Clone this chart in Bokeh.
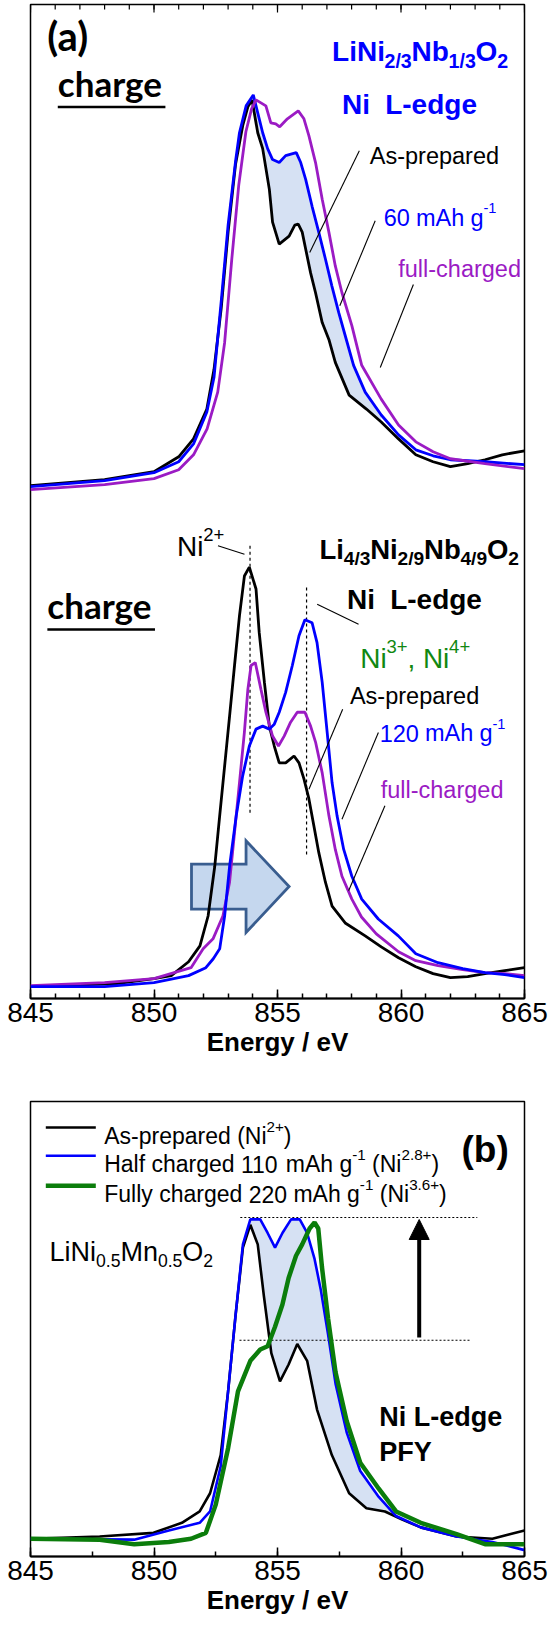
import numpy as np
from bokeh.plotting import figure
from bokeh.models import Label, SingleIntervalTicker, Arrow, NormalHead
from bokeh.layouts import column
from bokeh.embed import file_html
from bokeh.resources import INLINE

# ---------------- data (energy in eV, intensity in arbitrary offset units) ----------------
# panel (a), LiNi2/3Nb1/3O2 (upper set)
ea_up_black = [845, 848, 850, 851, 851.6, 852.14, 852.43, 852.72, 853.0, 853.3, 853.6, 853.8, 853.97, 854.2,
               854.4, 854.67, 854.8, 855.07, 855.47, 855.7, 855.84, 856.0, 856.14, 856.34, 856.54, 856.81,
               857.08, 857.34, 857.9, 858.6, 859.2, 859.9, 860.6, 861.3, 862.0, 862.7, 863.4, 864.1, 865]
ia_up_black = [5.16, 5.22, 5.30, 5.45, 5.63, 5.93, 6.33, 6.94, 7.71, 8.39, 8.79, 8.97, 9.04, 8.71,
               8.55, 8.14, 7.81, 7.59, 7.67, 7.78, 7.79, 7.71, 7.54, 7.30, 7.10, 6.80,
               6.63, 6.40, 6.07, 5.93, 5.80, 5.63, 5.47, 5.40, 5.35, 5.38, 5.42, 5.47, 5.51]
ea_up_blue = [845, 848, 850, 851, 851.6, 852.14, 852.43, 852.72, 853.0, 853.3, 853.46, 853.73, 854.02, 854.2,
              854.4, 854.6, 854.8, 855.07, 855.33, 855.76, 855.94, 856.14, 856.4, 856.67, 856.94, 857.2,
              857.48, 857.74, 858.08, 858.55, 859.2, 859.9, 860.6, 861.3, 862.0, 863.4, 865]
ia_up_blue = [5.15, 5.21, 5.29, 5.40, 5.58, 5.90, 6.25, 7.01, 7.78, 8.42, 8.71, 8.98, 9.09, 8.91,
              8.71, 8.55, 8.44, 8.41, 8.48, 8.51, 8.41, 8.24, 7.97, 7.71, 7.44, 7.17,
              6.90, 6.67, 6.37, 6.10, 5.87, 5.67, 5.52, 5.46, 5.42, 5.40, 5.37]
ea_up_purple = [845, 848, 850, 851, 851.6, 852.15, 852.58, 852.86, 853.15, 853.43, 853.72, 853.95, 854.13,
                854.53, 854.73, 854.93, 855.09, 855.4, 855.84, 856.07, 856.27, 856.54, 856.81, 857.08,
                857.34, 857.61, 858.01, 858.41, 859.2, 859.9, 860.6, 861.3, 862.0, 863.4, 865]
ia_up_purple = [5.12, 5.17, 5.23, 5.32, 5.47, 5.73, 6.10, 6.60, 7.44, 8.18, 8.72, 8.95, 9.04,
                8.98, 8.81, 8.80, 8.77, 8.85, 8.93, 8.85, 8.68, 8.41, 8.04, 7.71,
                7.37, 7.10, 6.77, 6.37, 6.03, 5.77, 5.60, 5.50, 5.43, 5.38, 5.33]

# panel (a), Li4/3Ni2/9Nb4/9O2 (lower set)
ea_lo_black = [845, 848.5, 850.0, 850.7, 851.4, 851.86, 852.19, 852.46, 852.66, 852.86, 853.06, 853.26,
               853.46, 853.66, 853.86, 854.13, 854.26, 854.47, 854.67, 854.87, 855.07, 855.33, 855.67,
               855.87, 856.07, 856.27, 856.47, 856.67, 856.94, 857.21, 857.74, 858.55, 859.2, 859.9,
               860.6, 861.3, 862.0, 862.7, 863.4, 864.2, 865]
ia_lo_black = [0.12, 0.15, 0.20, 0.23, 0.37, 0.53, 0.83, 1.33, 1.84, 2.34, 2.84, 3.35,
               3.85, 4.25, 4.34, 4.12, 3.68, 3.18, 2.74, 2.54, 2.37, 2.37, 2.44,
               2.37, 2.21, 2.01, 1.74, 1.47, 1.17, 0.93, 0.76, 0.63, 0.52, 0.41,
               0.32, 0.25, 0.21, 0.22, 0.25, 0.28, 0.31]
ea_lo_blue = [845, 848, 850, 851.4, 852.1, 852.4, 852.66, 852.86, 853.06, 853.33, 853.59, 853.86, 854.13,
              854.4, 854.67, 854.87, 855.07, 855.33, 855.6, 855.87, 856.11, 856.4, 856.6, 856.81, 857.01,
              857.21, 857.41, 857.68, 858.01, 858.41, 859.08, 859.89, 860.6, 861.5, 862.5, 863.4, 864.2, 865]
ia_lo_blue = [0.12, 0.12, 0.16, 0.23, 0.31, 0.40, 0.50, 0.83, 1.33, 1.84, 2.24, 2.54, 2.71,
              2.74, 2.71, 2.76, 2.88, 3.08, 3.35, 3.65, 3.81, 3.78, 3.58, 3.18, 2.68,
              2.17, 1.84, 1.50, 1.23, 1.00, 0.80, 0.63, 0.45, 0.36, 0.30, 0.26, 0.24, 0.21]
ea_lo_purple = [845, 848, 850, 851.5, 851.99, 852.39, 852.79, 853.06, 853.26, 853.46, 853.66, 853.8, 853.93,
                854.1, 854.33, 854.53, 854.8, 855.04, 855.27, 855.53, 855.8, 856.11, 856.34, 856.54,
                856.81, 857.08, 857.34, 857.61, 858.01, 858.4, 859.0, 859.9, 860.6, 861.5, 862.5, 863.4,
                864.2, 865]
ia_lo_purple = [0.13, 0.16, 0.20, 0.31, 0.50, 0.60, 0.83, 1.17, 1.67, 2.17, 2.68, 3.11, 3.35,
                3.38, 3.11, 2.88, 2.64, 2.54, 2.64, 2.78, 2.88, 2.88, 2.74, 2.58,
                2.27, 1.84, 1.50, 1.23, 1.00, 0.82, 0.65, 0.47, 0.38, 0.33, 0.29, 0.26,
                0.25, 0.23]

# panel (b), LiNi0.5Mn0.5O2 PFY
eb_black = [845, 847.8, 849.98, 851.13, 851.85, 852.27, 852.7, 853.0, 853.3, 853.6, 853.9, 854.2, 854.45,
            854.75, 855.1, 855.45, 855.8, 856.2, 856.6, 857.2, 857.9, 858.6, 859.35, 860.05, 860.8,
            862.25, 863.7, 864.4, 865]
ib_black = [0.39, 0.44, 0.52, 0.74, 0.99, 1.39, 2.23, 3.63, 5.29, 6.79, 7.29, 6.86, 5.72,
            4.47, 3.85, 4.22, 4.67, 4.30, 3.23, 2.23, 1.39, 1.06, 0.99, 0.81, 0.64,
            0.44, 0.39, 0.49, 0.57]
eb_blue = [845, 849.2, 850.6, 851.85, 852.27, 852.7, 853.0, 853.3, 853.6, 853.9, 854.3, 854.6, 854.9,
           855.2, 855.55, 855.9, 856.2, 856.5, 856.75, 857.05, 857.35, 857.8, 858.35, 859.1, 859.8,
           860.8, 862.25, 863.7, 865]
ib_blue = [0.39, 0.37, 0.57, 0.74, 0.99, 1.98, 3.63, 5.29, 6.86, 7.41, 7.41, 7.11, 6.79,
           7.11, 7.41, 7.41, 7.11, 6.54, 5.87, 4.87, 3.80, 2.73, 1.88, 1.31, 0.89,
           0.64, 0.44, 0.32, 0.14]
eb_green = [845, 847.8, 849.2, 850.6, 851.5, 852.1, 852.5, 853.0, 853.4, 853.9, 854.3, 854.6, 854.9,
            855.2, 855.45, 855.75, 856.0, 856.3, 856.5, 856.65, 856.8, 857.05, 857.35, 857.8, 858.35,
            859.1, 859.8, 860.8, 862.25, 863.4, 865]
ib_green = [0.39, 0.37, 0.27, 0.32, 0.39, 0.52, 1.14, 2.38, 3.63, 4.30, 4.55, 4.62, 5.05,
            5.54, 6.12, 6.61, 6.86, 7.21, 7.34, 7.21, 6.36, 5.22, 4.05, 2.98, 2.06,
            1.49, 0.99, 0.74, 0.49, 0.27, 0.27]

x_axis_title = "Energy / eV"
legend_b = [
    [("As-prepared (Ni", "n"), ("2+", "sup"), (")", "n")],
    [("Half charged 110 mAh g", "n"), ("-1", "sup"), (" (Ni", "n"), ("2.8+", "sup"), (")", "n")],
    [("Fully charged 220 mAh g", "n"), ("-1", "sup"), (" (Ni", "n"), ("3.6+", "sup"), (")", "n")],
]

# ---------------- styles ----------------
SANS = "Liberation Sans"
CAL = "Lato"
BLACK = "#000000"
BLUE = "#0000ff"
PURPLE = "#9b1bc4"
GREEN = "#0b7d0b"
GREEN_T = "#118811"
SHADE = "#d6e1f3"

REG = {' ': 278, '(': 333, ')': 333, '-': 333, '.': 278, '/': 278, ',': 278, '+': 584,
       'A': 667, 'F': 611, 'H': 722, 'L': 556, 'M': 833, 'N': 722, 'O': 778, 'P': 667, 'Y': 667,
       'a': 556, 'b': 556, 'c': 500, 'd': 556, 'e': 556, 'f': 278, 'g': 556, 'h': 556, 'i': 222,
       'l': 222, 'm': 833, 'n': 556, 'p': 556, 'r': 333, 's': 500, 'u': 556, 'y': 500}
BOLD = {' ': 278, '(': 333, ')': 333, '-': 333, '.': 278, '/': 278, ',': 278, '+': 584,
        'L': 611, 'N': 722, 'O': 778, 'P': 667, 'F': 611, 'Y': 667,
        'b': 611, 'd': 611, 'e': 556, 'g': 611, 'i': 278}


def twidth(s, size, bold):
    tb = BOLD if bold else REG
    return sum(tb.get(c, 556) for c in s) * size / 1000.0


def rich(p, conv, x, y, segs, size, color, bold=False, font=SANS, ss=0.68, drop=0.30, rise=0.40):
    """Lay out text pieces (normal / sub / sup) one after another from a left baseline point."""
    for txt, kind in segs:
        if kind == "n":
            fs, dy = size, 0.0
        elif kind == "sub":
            fs, dy = size * ss, size * drop
        else:
            fs, dy = size * ss, -size * rise
        # split on spaces: SVG collapses leading / repeated blanks, so place each word itself
        parts = txt.split(" ")
        for k, w in enumerate(parts):
            if w:
                X, Y = conv(x, y + dy)
                p.add_layout(Label(x=X, y=Y, text=w, text_font=font, text_font_size=f"{fs:.1f}px",
                                   text_color=color, text_font_style="bold" if bold else "normal",
                                   text_baseline="alphabetic", text_align="left"))
                x += twidth(w, fs, bold)
            if k < len(parts) - 1:
                x += twidth(" ", fs, bold)


def style_axis(ax, minor_n):
    ax.ticker = SingleIntervalTicker(interval=5, num_minor_ticks=minor_n)
    ax.major_label_text_font = SANS
    ax.major_label_text_font_size = "28px"
    ax.major_label_text_color = BLACK
    ax.axis_label = x_axis_title
    ax.axis_label_text_font = SANS
    ax.axis_label_text_font_size = "26px"
    ax.axis_label_text_font_style = "bold"
    ax.axis_label_text_color = BLACK
    ax.major_tick_in = 9
    ax.major_tick_out = 0
    ax.minor_tick_in = 5
    ax.minor_tick_out = 0
    ax.major_tick_line_width = 1.5
    ax.minor_tick_line_width = 1.5
    ax.axis_line_width = 2
    ax.major_label_standoff = 4
    ax.axis_label_standoff = 2


# ================= panel (a) =================
pa = figure(width=551, height=1082, x_range=(845, 865), y_range=(0, 10),
            output_backend="svg", toolbar_location=None, y_axis_location=None,
            min_border_left=28, min_border_right=25, min_border_top=4, min_border_bottom=84)
pa.grid.visible = False
pa.outline_line_color = BLACK
pa.outline_line_width = 1.5
style_axis(pa.xaxis[0], 5)

PXY_A = 99.4  # frame px per intensity unit


def ca(xp, yp):
    return 845 + (xp - 36) / 24.9, (1006 - yp) / PXY_A


# inward ticks along the top edge of panel (a)
top_minor = np.arange(845, 866, 1)
top_major = np.arange(845, 866, 5)
pa.segment(x0=top_minor, y0=10, x1=top_minor, y1=10 - 5 / PXY_A, color=BLACK, line_width=1.2)
pa.segment(x0=top_major, y0=10, x1=top_major, y1=10 - 8 / PXY_A, color=BLACK, line_width=1.2)

# shading between as-prepared and 60 mAh/g
Ebk, Ibk = np.array(ea_up_black), np.array(ia_up_black)
Ebl, Ibl = np.array(ea_up_blue), np.array(ia_up_blue)
mk = (Ebk >= 853.97) & (Ebk <= 859.2)
mb = (Ebl >= 853.97) & (Ebl <= 859.2)
pa.patch(np.concatenate([Ebk[mk], Ebl[mb][::-1]]), np.concatenate([Ibk[mk], Ibl[mb][::-1]]),
         fill_color=SHADE, line_color=None)

# block arrow (energy shift)
arrow_px = [(198.3, 871.7), (253.3, 871.7), (253.3, 848.3), (296.7, 894.0), (253.3, 940.0),
            (253.3, 916.7), (198.3, 916.7)]
pa.patch([ca(*q)[0] for q in arrow_px], [ca(*q)[1] for q in arrow_px],
         fill_color="#c5d7ee", line_color="#395d8f", line_width=2.8, line_join="miter")

# dashed peak guides
for (xp, y0, y1) in [(257.3, 553.3, 823.3), (314.3, 595.0, 863.3)]:
    pa.line([ca(xp, y0)[0]] * 2, [ca(xp, y0)[1], ca(xp, y1)[1]], line_dash="3 3", line_width=1.2,
            color=BLACK)

LW = 2.8
pa.line(ea_up_black, ia_up_black, color=BLACK, line_width=LW)
pa.line(ea_up_blue, ia_up_blue, color=BLUE, line_width=LW)
pa.line(ea_up_purple, ia_up_purple, color=PURPLE, line_width=LW)
pa.line(ea_lo_black, ia_lo_black, color=BLACK, line_width=LW)
pa.line(ea_lo_purple, ia_lo_purple, color=PURPLE, line_width=LW)
pa.line(ea_lo_blue, ia_lo_blue, color=BLUE, line_width=LW)

# leader lines
leaders_a = [((367.5, 158.3), (317.5, 260.0)), ((383.5, 228.3), (347.8, 313.3)),
             ((422.0, 292.0), (388.6, 375.0)), ((225.0, 553.3), (251.7, 561.7)),
             ((325.0, 611.7), (366.7, 631.7)), ((350.7, 716.7), (316.7, 796.7)),
             ((386.7, 740.0), (350.0, 826.7)), ((393.3, 813.3), (356.7, 898.3))]
for a, b in leaders_a:
    pa.line([ca(*a)[0], ca(*b)[0]], [ca(*a)[1], ca(*b)[1]], color=BLACK, line_width=1.1)

# texts (a) -- Lato labels are lifted to compensate the font's tall line box
LATO_LIFT = 0.45
X, Y = ca(53, 61 - LATO_LIFT * 40)
pa.add_layout(Label(x=X, y=Y, text="(a)", text_font=CAL, text_font_size="40px", text_font_style="bold",
                    text_color=BLACK, text_baseline="alphabetic"))
for (xl, yl, yu) in [(63.5, 106, 114.5), (53, 628, 637)]:
    X, Y = ca(xl, yl - LATO_LIFT * 35)
    pa.add_layout(Label(x=X, y=Y, text="charge", text_font=CAL, text_font_size="35px",
                        text_font_style="bold", text_color=BLACK, text_baseline="alphabetic"))
    pa.line([ca(xl, yu)[0], ca(xl + 108.5, yu)[0]], [ca(xl, yu)[1]] * 2, color=BLACK, line_width=2.6)

rich(pa, ca, 340, 58.5, [("LiNi", "n"), ("2/3", "sub"), ("Nb", "n"), ("1/3", "sub"), ("O", "n"), ("2", "sub")],
     28, BLUE, bold=True, ss=0.7, drop=0.34)
rich(pa, ca, 350, 111.7, [("Ni  L-edge", "n")], 28, BLUE, bold=True)
rich(pa, ca, 378, 163.5, [("As-prepared", "n")], 23.5, BLACK)
rich(pa, ca, 392, 225, [("60 mAh g", "n"), ("-1", "sup")], 23.5, BLUE, ss=0.62)
rich(pa, ca, 406.7, 276.7, [("full-charged", "n")], 23.5, PURPLE)

rich(pa, ca, 183.7, 553.5, [("Ni", "n"), ("2+", "sup")], 28, BLACK, ss=0.66)
rich(pa, ca, 327.3, 556.7, [("Li", "n"), ("4/3", "sub"), ("Ni", "n"), ("2/9", "sub"), ("Nb", "n"), ("4/9", "sub"),
                            ("O", "n"), ("2", "sub")], 27.5, BLACK, bold=True, ss=0.7, drop=0.34)
rich(pa, ca, 355, 606.7, [("Ni  L-edge", "n")], 28, BLACK, bold=True)
rich(pa, ca, 368.5, 665.5, [("Ni", "n"), ("3+", "sup"), (", Ni", "n"), ("4+", "sup")], 28, GREEN_T, ss=0.66)
rich(pa, ca, 358, 703.3, [("As-prepared", "n")], 23.5, BLACK)
rich(pa, ca, 388, 740.7, [("120 mAh g", "n"), ("-1", "sup")], 23.5, BLUE, ss=0.62)
rich(pa, ca, 389, 797, [("full-charged", "n")], 23.5, PURPLE)

# ================= panel (b) =================
pb = figure(width=551, height=542, x_range=(845, 865), y_range=(0, 10),
            output_backend="svg", toolbar_location=None, y_axis_location=None,
            min_border_left=30, min_border_right=27, min_border_top=19, min_border_bottom=68)
pb.grid.visible = False
pb.outline_line_color = BLACK
pb.outline_line_width = 1.5
style_axis(pb.xaxis[0], 2)


def cb(xp, yp):
    return 845 + (xp - 38) / 24.7, (1564 - yp) / 45.5


Ebk, Ibk = np.array(eb_black), np.array(ib_black)
Ebl, Ibl = np.array(eb_blue), np.array(ib_blue)
mk = (Ebk >= 853.9) & (Ebk <= 859.8)
mb = (Ebl >= 853.9) & (Ebl <= 859.8)
pb.patch(np.concatenate([Ebk[mk], Ebl[mb][::-1]]), np.concatenate([Ibk[mk], Ibl[mb][::-1]]),
         fill_color=SHADE, line_color=None)

for (x0, x1, yy) in [(247.8, 484.8, 1225.0), (247.0, 477.7, 1347.7)]:
    pb.line([cb(x0, yy)[0], cb(x1, yy)[0]], [cb(x0, yy)[1]] * 2, line_dash="2 2", line_width=1.1, color=BLACK)

pb.line(eb_black, ib_black, color=BLACK, line_width=2.6)
pb.line(eb_blue, ib_blue, color=BLUE, line_width=2.6)
pb.line(eb_green, ib_green, color=GREEN, line_width=4.5)

s0, s1 = cb(426.7, 1345), cb(426.7, 1227)
pb.add_layout(Arrow(end=NormalHead(size=20, fill_color=BLACK, line_color=BLACK),
                    x_start=s0[0], y_start=s0[1], x_end=s1[0], y_end=s1[1],
                    line_width=4, line_color=BLACK))

# legend (b)
leg_y = [(1135.0, 1143.3), (1163.3, 1171.7), (1193.3, 1201.7)]
leg_style = [(BLACK, 2.6), (BLUE, 2.6), (GREEN, 4.5)]
for (ly, ty), (c, w), segs in zip(leg_y, leg_style, legend_b):
    pb.line([cb(53.3, ly)[0], cb(103.3, ly)[0]], [cb(53.3, ly)[1]] * 2, color=c, line_width=w)
    rich(pb, cb, 111.7, ty, segs, 23, BLACK, ss=0.66)

X, Y = cb(469, 1157)
pb.add_layout(Label(x=X, y=Y, text="(b)", text_font=SANS, text_font_size="37px", text_font_style="bold",
                    text_color=BLACK, text_baseline="alphabetic"))
rich(pb, cb, 57, 1259, [("LiNi", "n"), ("0.5", "sub"), ("Mn", "n"), ("0.5", "sub"), ("O", "n"), ("2", "sub")],
     27, BLACK, ss=0.65, drop=0.33)
rich(pb, cb, 386.8, 1424.3, [("Ni L-edge", "n")], 27, BLACK, bold=True)
rich(pb, cb, 386.8, 1459, [("PFY", "n")], 27, BLACK, bold=True)

layout = column(pa, pb)
open("out.html", "w").write(file_html(layout, INLINE))
